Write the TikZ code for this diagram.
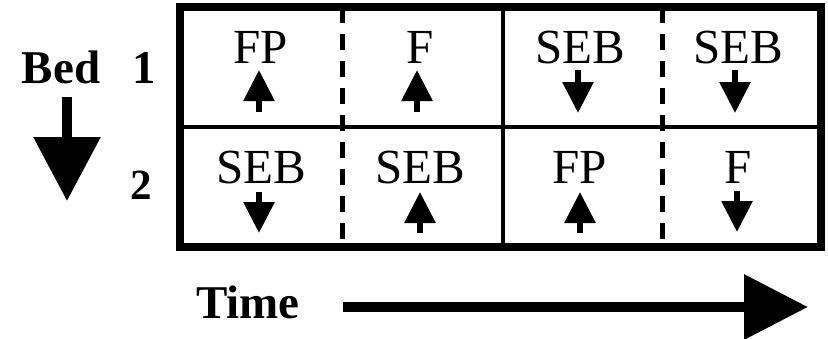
\documentclass[tikz,border=0pt]{standalone}
\usepackage{fontspec}
\setmainfont{Liberation Serif}
\usetikzlibrary{arrows.meta}
\begin{document}
\begin{tikzpicture}[x=1pt,y=-1pt,
  celltext/.style={inner sep=0pt, anchor=base, font=\fontsize{49}{58}\selectfont},
  axislabel/.style={inner sep=0pt, anchor=base, font=\fontsize{47}{56}\selectfont\bfseries},
  flow/.style={line width=6pt, -{Triangle[length=31pt 0 0,width=30pt 0 0]}},
  divider/.style={line width=4pt},
  phase/.style={line width=5pt, dash pattern=on 16pt off 11pt},
  frame/.style={line width=7.5pt, line join=miter},
]
\useasboundingbox (0,0) rectangle (828,338);

% schedule grid
\coordinate (tl) at (180,7);
\coordinate (br) at (821,247);
\draw[divider] (180,127) -- (821,127);
\draw[divider] (503,7) -- (503,247);
\draw[phase] (342,7) -- (342,247);
\draw[phase] (662,7) -- (662,247);
\draw[frame] (tl) rectangle (br);

% step names
\node[celltext] (a1) at (261,63) {FP};
\node[celltext] (b1) at (420,63) {F};
\node[celltext] (c1) at (580,63) {SEB};
\node[celltext] (d1) at (738,63) {SEB};
\node[celltext] (a2) at (261,183) {SEB};
\node[celltext] (b2) at (420,183) {SEB};
\node[celltext] (c2) at (580,183) {FP};
\node[celltext] (d2) at (738,183) {F};

% flow directions, row 1
\coordinate (a1s) at (259,112); \coordinate (a1e) at (259,70);
\coordinate (b1s) at (417,112); \coordinate (b1e) at (417,70);
\coordinate (c1s) at (578,70);  \coordinate (c1e) at (578,113);
\coordinate (d1s) at (735,70);  \coordinate (d1e) at (735,113);
\draw[flow] (a1s) -- (a1e);
\draw[flow] (b1s) -- (b1e);
\draw[flow] (c1s) -- (c1e);
\draw[flow] (d1s) -- (d1e);

% flow directions, row 2
\coordinate (a2s) at (259,192); \coordinate (a2e) at (259,233);
\coordinate (b2s) at (420,233); \coordinate (b2e) at (420,192);
\coordinate (c2s) at (580,233); \coordinate (c2e) at (580,192);
\coordinate (d2s) at (737,191); \coordinate (d2e) at (737,232);
\draw[flow] (a2s) -- (a2e);
\draw[flow] (b2s) -- (b2e);
\draw[flow] (c2s) -- (c2e);
\draw[flow] (d2s) -- (d2e);

% bed axis
\node[axislabel] (bed) at (61,83) {Bed};
\node[axislabel] (one) at (144,83) {1};
\node[axislabel, font=\fontsize{43}{52}\selectfont\bfseries] (two) at (141,199) {2};
\coordinate (bedtop) at (67,97);
\coordinate (bedtip) at (67,201);
\draw[line width=9.5pt, -{Triangle[length=64pt 0 0,width=65pt 0 0]}] (bedtop) -- (bedtip);

% time axis
\node[axislabel] (time) at (248,318) {Time};
\coordinate (timestart) at (343,307);
\coordinate (timetip) at (808,307);
\draw[line width=10pt, -{Triangle[length=64pt 0 0,width=63pt 0 0]}] (timestart) -- (timetip);
\end{tikzpicture}
\end{document}
